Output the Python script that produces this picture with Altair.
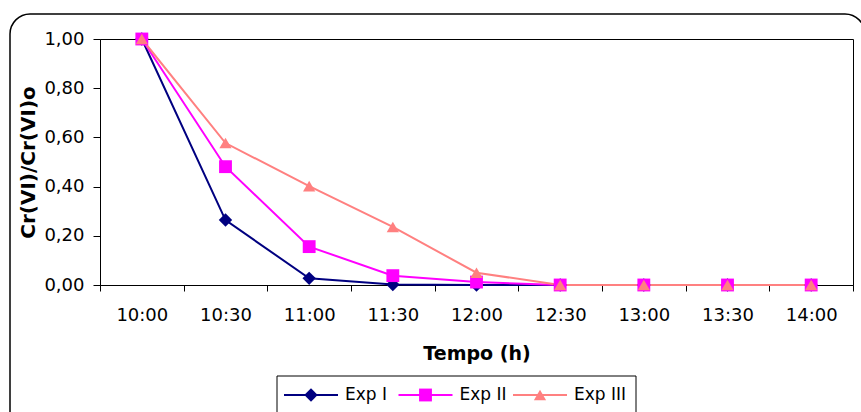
import altair as alt
import pandas as pd

times = ["10:00", "10:30", "11:00", "11:30", "12:00", "12:30", "13:00", "13:30", "14:00"]
series = ["Exp I", "Exp II", "Exp III"]
exp1 = [1.00, 0.264, 0.027, 0.002, 0.000, 0.000, 0.000, 0.000, 0.000]
exp2 = [1.00, 0.481, 0.156, 0.038, 0.012, 0.000, 0.000, 0.000, 0.000]
exp3 = [1.00, 0.577, 0.402, 0.236, 0.050, 0.000, 0.000, 0.000, 0.000]
colors = ["#000080", "#FF00FF", "#FF8080"]
shapes = ["diamond", "square", "triangle-up"]
sizes = [180, 150, 240]
y_ticks = [0, 0.2, 0.4, 0.6, 0.8, 1.0]

rows = []
for name, vals in zip(series, [exp1, exp2, exp3]):
    for t, v in zip(times, vals):
        rows.append({"Tempo": t, "Serie": name, "ratio": v})
df = pd.DataFrame(rows)
leg_df = pd.DataFrame({"Serie": series})

FONT = "DejaVu Sans"

x_enc = alt.X(
    "Tempo:N",
    sort=times,
    scale=alt.Scale(type="band", domain=times, paddingInner=0, paddingOuter=0),
    axis=alt.Axis(
        title="Tempo (h)", labelAngle=0, tickBand="extent", tickSize=6,
        labelPadding=15, titlePadding=20, titleFontSize=19,
    ),
)
y_enc = alt.Y(
    "ratio:Q",
    scale=alt.Scale(domain=[0, 1], nice=False),
    axis=alt.Axis(
        title="Cr(VI)/Cr(VI)o", values=y_ticks, tickSize=7, labelPadding=9,
        titlePadding=5, grid=False, titleFontSize=20,
        labelExpr="replace(format(datum.value, '.2f'), '.', ',')",
    ),
)
color_enc = alt.Color("Serie:N", scale=alt.Scale(domain=series, range=colors), legend=None)
shape_enc = alt.Shape("Serie:N", scale=alt.Scale(domain=series, range=shapes), legend=None)
size_enc = alt.Size("Serie:N", scale=alt.Scale(domain=series, range=sizes), legend=None)

border = alt.Chart(pd.DataFrame({"k": [0]})).mark_rect(
    filled=False, stroke="black", strokeWidth=1.5, cornerRadius=20
).encode(
    x=alt.value(-90), x2=alt.value(765), y=alt.value(-25), y2=alt.value(420)
)

lines = alt.Chart(df).mark_line(strokeWidth=2).encode(
    x=x_enc, y=y_enc, color=color_enc,
)

points = alt.Chart(df).mark_point(filled=True, opacity=1).encode(
    x=x_enc, y=y_enc, color=color_enc, shape=shape_enc, size=size_enc,
)

main = alt.layer(border, lines, points)

# legend drawn as marks, positioned by a point scale over the series
leg_x = alt.X(
    "Serie:N", sort=series,
    scale=alt.Scale(type="point", domain=series, range=[211, 440], padding=0),
    axis=None,
)
leg_y = alt.value(356)

leg_box = alt.Chart(pd.DataFrame({"k": [0]})).mark_rect(
    fill="white", stroke="black", strokeWidth=1
).encode(x=alt.value(177), x2=alt.value(536), y=alt.value(337), y2=alt.value(400))

leg_lines = alt.Chart(leg_df).mark_point(
    shape="M-1,0L1,0", filled=False, strokeWidth=2, size=2916, opacity=1
).encode(x=leg_x, y=leg_y, color=color_enc)

leg_marks = alt.Chart(leg_df).mark_point(filled=True, opacity=1).encode(
    x=leg_x, y=leg_y, color=color_enc, shape=shape_enc, size=size_enc,
)

leg_text = alt.Chart(leg_df).mark_text(
    align="left", baseline="middle", dx=34, font=FONT, fontSize=17, color="black"
).encode(x=leg_x, y=leg_y, text="Serie:N")

legend = alt.layer(leg_box, leg_lines, leg_marks, leg_text)

chart = alt.layer(main, legend).resolve_scale(x="independent").properties(
    width=753, height=246,
    autosize=alt.AutoSizeParams(type="none"),
    padding={"left": 100, "top": 39, "right": 8, "bottom": 127},
    background="white",
).configure_view(stroke="black", strokeWidth=1).configure_axis(
    domainColor="black", tickColor="black", labelColor="black", titleColor="black",
    labelFont=FONT, labelFontSize=18, titleFont=FONT,
    titleFontWeight="bold", domainWidth=1, tickWidth=1,
)

chart.save("out.html", embed_options={"renderer": "svg", "actions": False})
